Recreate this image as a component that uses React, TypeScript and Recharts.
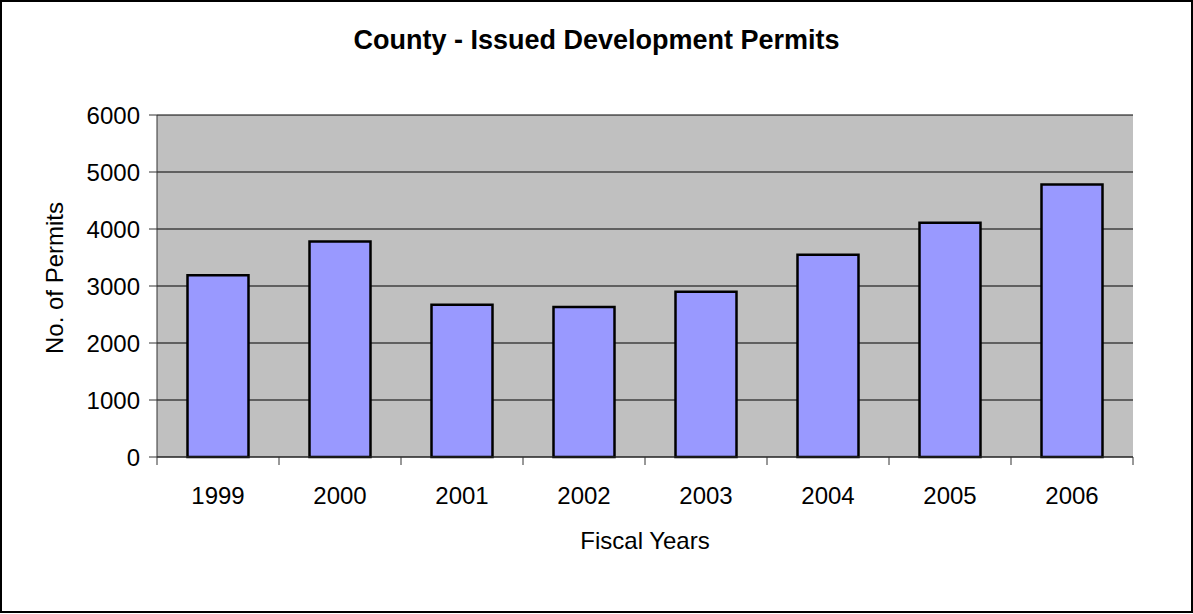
import React from 'react';
import { BarChart, Bar, XAxis, YAxis, CartesianGrid, Label } from 'recharts';

const years = ['1999', '2000', '2001', '2002', '2003', '2004', '2005', '2006'];
const permits = [3190, 3780, 2670, 2630, 2900, 3550, 4110, 4780];
const yTicks = [0, 1000, 2000, 3000, 4000, 5000, 6000];

const data = years.map((y, i) => ({ year: y, permits: permits[i] }));

const FONT = '"Liberation Sans", Arial, sans-serif';

function YLabel(props: any) {
  const vb = props.viewBox || { x: 0, y: 0, width: 0, height: 0 };
  const cx = vb.x + 54;
  const cy = vb.y + vb.height / 2 - 8;
  return (
    <text
      x={cx}
      y={cy}
      transform={`rotate(-90, ${cx}, ${cy})`}
      textAnchor="middle"
      dominantBaseline="central"
      fontFamily={FONT}
      fontSize={24}
      fill="#000"
    >
      No. of Permits
    </text>
  );
}

function XLabel(props: any) {
  const vb = props.viewBox || { x: 0, y: 0, width: 0, height: 0 };
  return (
    <text
      x={vb.x + vb.width / 2}
      y={vb.y + 92}
      textAnchor="middle"
      fontFamily={FONT}
      fontSize={24}
      fill="#000"
    >
      Fiscal Years
    </text>
  );
}

function CatTick(props: any) {
  const { x, y, payload, index, visibleTicksCount } = props;
  const half = payload && payload.offset ? payload.offset : 61;
  const last = index === (visibleTicksCount ?? years.length) - 1;
  return (
    <g>
      <line x1={x - half} x2={x - half} y1={y} y2={y + 8} stroke="#333" strokeWidth={1} />
      {last ? <line x1={x + half} x2={x + half} y1={y} y2={y + 8} stroke="#333" strokeWidth={1} /> : null}
      <text x={x} y={y + 47} textAnchor="middle" fontFamily={FONT} fontSize={24} fill="#000">
        {payload.value}
      </text>
    </g>
  );
}

export default function App() {
  return (
    <div style={{ position: 'absolute', left: 0, top: 0, width: 1193, height: 614, background: '#fff' }}>
      <div
        style={{
          position: 'absolute',
          left: 0,
          top: 0,
          width: 1193,
          height: 613,
          border: '2px solid #000',
          boxSizing: 'border-box',
        }}
      />
      <div
        style={{
          position: 'absolute',
          left: 0,
          top: 27,
          width: 1193,
          textAlign: 'center',
          fontFamily: FONT,
          fontWeight: 'bold',
          fontSize: 27,
          lineHeight: '27px',
          color: '#000',
        }}
      >
        County - Issued Development Permits
      </div>
      <div style={{ position: 'absolute', left: 0, top: 0 }}>
        <BarChart
          width={1193}
          height={614}
          data={data}
          margin={{ top: 115, right: 60, bottom: 0, left: 0 }}
          barCategoryGap="25%"
        >
          <CartesianGrid vertical={false} horizontal stroke="#000" fill="#C0C0C0" strokeOpacity={1} />
          <XAxis
            dataKey="year"
            height={157}
            axisLine={{ stroke: '#333' }}
            tickLine={false}
            tickSize={0}
            tickMargin={0}
            interval={0}
            tick={<CatTick />}
          >
            <Label content={<XLabel />} />
          </XAxis>
          <YAxis
            domain={[0, 6000]}
            ticks={yTicks}
            width={157}
            tickSize={8}
            tickMargin={9}
            interval={0}
            axisLine={{ stroke: '#333' }}
            tickLine={{ stroke: '#333' }}
            tick={{ fontFamily: FONT, fontSize: 24, fill: '#000' }}
          >
            <Label content={<YLabel />} />
          </YAxis>
          <YAxis
            yAxisId="rightEdge"
            orientation="right"
            domain={[0, 6000]}
            width={0}
            tick={false}
            tickLine={false}
            axisLine={{ stroke: '#808080', strokeWidth: 2 }}
          />
          <Bar dataKey="permits" fill="#9999FF" stroke="#000" strokeWidth={2.5} isAnimationActive={false} />
        </BarChart>
      </div>
    </div>
  );
}
